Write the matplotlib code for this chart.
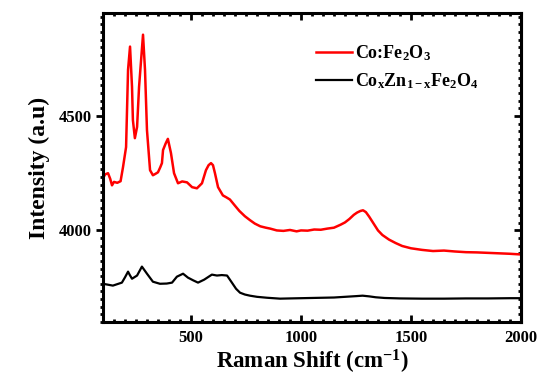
import matplotlib
matplotlib.use("Agg")
import matplotlib.pyplot as plt
from matplotlib.ticker import MultipleLocator

# Raman shift (cm^-1) and intensity
red_x = [100, 110, 123, 133, 141, 150, 165, 180, 191, 205, 214, 223, 232, 236, 245, 255, 264, 282,
         291, 300, 314, 327, 340, 350, 360, 368, 373, 385, 395, 409, 423, 441, 460, 482, 505, 527,
         550, 568, 580, 591, 600, 609, 623, 645, 660, 677, 700, 720, 745, 768, 790, 815, 840, 860,
         890, 920, 950, 980, 1000, 1030, 1060, 1090, 1120, 1150, 1180, 1200, 1220, 1240, 1255, 1270,
         1282, 1295, 1310, 1330, 1350, 1370, 1400, 1430, 1460, 1500, 1550, 1600, 1650, 1700, 1750,
         1800, 1850, 1900, 1950, 2000]
red_y = [4228, 4245, 4250, 4225, 4197, 4212, 4208, 4215, 4276, 4364, 4702, 4803, 4627, 4482, 4403,
         4452, 4627, 4855, 4702, 4438, 4263, 4241, 4248, 4254, 4275, 4294, 4351, 4380, 4400, 4338,
         4250, 4206, 4214, 4210, 4189, 4184, 4206, 4263, 4285, 4294, 4285, 4250, 4189, 4153, 4145,
         4135, 4108, 4085, 4062, 4045, 4030, 4018, 4012, 4008, 4000, 3998, 4002, 3996, 4000, 3999,
         4004, 4003, 4008, 4012, 4025, 4035, 4050, 4068, 4078, 4085, 4088, 4080, 4060, 4030, 4000,
         3980, 3960, 3945, 3932, 3922, 3915, 3910, 3912, 3908, 3905, 3904, 3902, 3900, 3898, 3895]

black_x = [100, 145, 186, 200, 214, 222, 232, 255, 277, 300, 327, 359, 390, 414, 436, 464, 486, 510,
           532, 560, 595, 618, 640, 664, 686, 705, 723, 745, 768, 800, 845, 905, 950, 1000, 1050,
           1100, 1150, 1200, 1250, 1280, 1310, 1340, 1380, 1450, 1550, 1650, 1750, 1850, 1950, 2000]
black_y = [3767, 3759, 3772, 3795, 3820, 3805, 3789, 3803, 3842, 3811, 3776, 3767, 3768, 3772, 3798,
           3811, 3794, 3782, 3772, 3785, 3807, 3803, 3805, 3803, 3772, 3745, 3728, 3720, 3715, 3710,
           3706, 3702, 3703, 3704, 3705, 3706, 3707, 3710, 3713, 3715, 3712, 3708, 3705, 3703, 3702,
           3702, 3703, 3703, 3704, 3704]

x_ticks = [500, 1000, 1500, 2000]
y_ticks = [4000, 4500]
labels = ["Co:Fe$_2$O$_3$", "Co$_\\mathregular{x}$Zn$_\\mathregular{1-x}$Fe$_2$O$_4$"]

plt.rcParams['font.family'] = ['Liberation Serif', 'DejaVu Serif']
plt.rcParams['font.weight'] = 'bold'
plt.rcParams['mathtext.fontset'] = 'custom'
plt.rcParams['mathtext.rm'] = 'Liberation Serif:bold'
plt.rcParams['mathtext.it'] = 'Liberation Serif:bold:italic'
plt.rcParams['mathtext.bf'] = 'Liberation Serif:bold'

fig = plt.figure(figsize=(5.38, 3.76), dpi=100)
ax = fig.add_axes([0.1914, 0.1436, 0.777, 0.822])

ax.plot(red_x, red_y, color='#ff0000', lw=1.8, label=labels[0])
ax.plot(black_x, black_y, color='black', lw=1.6, label=labels[1])

ax.set_xlim(100, 2000)
ax.set_ylim(3600, 4950)
ax.set_xticks(x_ticks)
ax.set_yticks(y_ticks)
ax.xaxis.set_minor_locator(MultipleLocator(50))
ax.yaxis.set_minor_locator(MultipleLocator(500 / 15))

for s in ax.spines.values():
    s.set_linewidth(2.2)

ax.tick_params(axis='x', which='both', direction='in', top=True, bottom=True, pad=6)
ax.tick_params(axis='y', which='both', direction='out', left=True, right=False, pad=3)
ax.tick_params(which='major', length=5, width=2, labelsize=12)
ax.tick_params(which='minor', length=2.5, width=2)
for t in ax.get_xticklabels() + ax.get_yticklabels():
    t.set_fontweight('bold')

# right-side inward ticks via secondary axis
sec = ax.secondary_yaxis('right')
sec.set_yticks(y_ticks)
sec.yaxis.set_minor_locator(MultipleLocator(500 / 15))
sec.tick_params(which='both', direction='in', labelright=False)
sec.tick_params(which='major', length=5, width=2)
sec.tick_params(which='minor', length=2.5, width=2)
sec.spines['right'].set_linewidth(2.2)

ax.set_xlabel("Raman Shift (cm$^{\\mathregular{-1}}$)", fontsize=16.5, fontweight='bold', labelpad=1)
ax.set_ylabel("Intensity (a.u)", fontsize=17, fontweight='bold', labelpad=6)

leg = ax.legend(loc='upper left', bbox_to_anchor=(0.47, 0.955), frameon=False,
                handlelength=2.0, handletextpad=0.15, labelspacing=0.45,
                prop={'weight': 'bold', 'size': 13})

fig.savefig("out.png", dpi=100)
